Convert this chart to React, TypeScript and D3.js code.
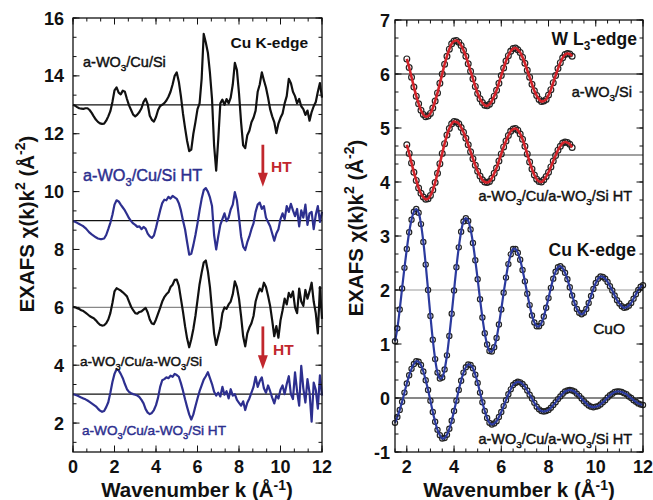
import React from 'react';
import * as d3 from 'd3';

const FONT = '"Liberation Sans", Arial, Helvetica, sans-serif';
const BLUE = '#2d2f8f';
const RED = '#d2232a';

// ---- left panel: Cu K-edge, k = 0 ... 12 (step 0.1)
const kLeft = d3.range(0, 121).map((i) => i / 10);
const cuSi = [
  13.0, 12.97, 12.92, 12.88, 12.87, 12.86, 12.88, 12.88, 12.82, 12.72,
  12.6, 12.49, 12.41, 12.36, 12.34, 12.35, 12.45, 12.6, 12.78, 13.1,
  13.5, 13.6, 13.42, 13.36, 13.49, 13.45, 13.2, 12.98, 12.82, 12.66,
  12.6, 12.66, 12.75, 12.88, 13.1, 13.21, 13.02, 12.62, 12.48, 12.42,
  12.58, 12.82, 12.96, 13.0, 13.06, 13.15, 13.28, 13.45, 13.7, 14.0,
  14.12, 13.8, 13.3, 12.7, 12.2, 11.75, 11.4, 11.45, 12.0, 12.4,
  12.85, 13.05, 13.9, 15.45, 15.15, 14.8, 14.1, 13.2, 11.6, 10.72,
  11.8, 13.05, 13.18, 13.0, 13.2, 13.05, 13.25, 13.7, 14.45, 14.2,
  13.4, 12.4, 11.6, 11.5, 11.95, 12.1, 12.4, 12.55, 12.8, 13.45,
  13.7, 14.12, 13.85, 13.6, 13.25, 12.85, 12.6, 12.4, 12.02, 12.35,
  12.55, 12.7, 13.05, 13.3, 13.9, 13.75, 13.45, 13.3, 13.05, 13.2,
  12.95, 12.85, 12.65, 12.8, 12.45, 12.75, 12.95, 13.1, 13.45, 13.75,
  13.25,
];
const cuSiHT = [
  8.98, 8.96, 8.92, 8.88, 8.84, 8.8, 8.74, 8.66, 8.58, 8.52,
  8.47, 8.42, 8.38, 8.36, 8.36, 8.38, 8.5, 8.7, 8.92, 9.2,
  9.55, 9.7, 9.66, 9.55, 9.45, 9.35, 9.22, 9.08, 8.98, 8.9,
  8.85, 8.78, 8.8, 8.7, 8.78, 8.72, 8.55, 8.45, 8.4, 8.48,
  8.75, 9.05, 9.35, 9.6, 9.72, 9.7, 9.82, 9.76, 9.85, 9.8,
  9.75, 9.6, 9.35, 9.0, 8.7, 8.25, 7.82, 7.85, 8.15, 8.5,
  8.9, 9.35, 9.75, 10.05, 10.12, 10.0, 9.8, 9.5, 8.5, 8.0,
  8.45, 8.85, 9.05, 9.25, 8.98, 9.1, 9.38, 9.55, 9.98, 9.7,
  9.1, 8.45, 8.1, 7.98, 8.25, 8.45, 8.7, 8.9, 9.3, 9.55,
  9.62, 9.4, 9.5, 9.1, 8.95, 8.8, 8.55, 8.3, 8.55, 8.7,
  9.05, 9.25, 9.05, 9.5, 9.3, 9.58, 9.35, 9.15, 9.4, 8.8,
  9.35, 9.1, 9.55, 8.85, 9.25, 9.3, 8.7, 9.2, 9.5, 8.95,
  9.3,
];
const cuWSi = [
  6.02, 6.0, 5.97, 5.94, 5.9, 5.87, 5.82, 5.76, 5.7, 5.66,
  5.62, 5.55, 5.47, 5.4, 5.37, 5.38, 5.45, 5.58, 5.8, 6.15,
  6.55, 6.66, 6.62, 6.58, 6.52, 6.45, 6.38, 6.2, 6.02, 5.9,
  5.8, 5.78, 5.84, 5.86, 5.92, 5.98, 5.82, 5.58, 5.44, 5.42,
  5.58, 5.78, 5.98, 6.2, 6.35, 6.45, 6.52, 6.7, 6.78, 6.95,
  6.96, 6.75, 6.3, 5.85, 5.35, 4.92, 4.62, 4.9, 5.25, 5.7,
  6.25, 6.8, 7.2, 7.55, 7.62, 7.25, 6.7, 5.9, 5.1, 4.7,
  5.0, 5.3, 5.8, 6.0, 5.95, 6.1, 6.2, 6.45, 6.9, 6.7,
  6.3, 5.7, 5.0, 4.65, 5.1, 5.3, 5.45, 5.7, 6.2, 6.45,
  6.65, 6.55, 6.85, 6.7, 6.4, 6.05, 5.55, 5.0, 5.35, 4.95,
  5.55, 5.9, 6.3, 6.1, 6.5, 6.35, 6.55, 6.0, 5.8, 6.65,
  6.2, 6.05, 6.6, 6.3, 6.55, 6.85, 6.2, 5.8, 5.1, 6.7,
  5.6,
];
const cuWSiHT = [
  3.0, 2.98, 2.95, 2.92, 2.88, 2.85, 2.82, 2.78, 2.73, 2.68,
  2.63, 2.58, 2.5, 2.43, 2.39, 2.42, 2.55, 2.72, 3.05, 3.42,
  3.7, 3.86, 3.82, 3.7, 3.55, 3.35, 3.17, 3.08, 3.03, 3.0,
  2.98, 2.95, 2.9, 2.8, 2.68, 2.48, 2.36, 2.31, 2.35, 2.45,
  2.62, 2.88, 3.25, 3.48, 3.52, 3.58, 3.55, 3.64, 3.6, 3.7,
  3.66, 3.6, 3.38, 3.12, 2.82, 2.55, 2.3, 2.12, 2.3, 2.58,
  2.85, 3.1, 3.3, 3.5, 3.62, 3.76, 3.55, 3.35, 3.08, 2.95,
  3.05, 2.92, 3.25, 2.98, 3.1, 2.85, 3.17, 2.95, 3.0, 2.8,
  2.7, 2.6, 2.75, 2.45, 2.7, 2.85, 3.05, 3.25, 3.6, 3.25,
  3.45, 3.58, 3.2, 3.05, 3.3, 3.1, 2.88, 2.68, 2.95, 2.85,
  3.15, 3.3, 3.0, 3.35, 3.62, 3.0, 2.83, 3.75, 3.1, 2.6,
  3.98, 3.2, 2.71, 3.52, 3.05, 2.05, 3.4, 3.15, 2.5, 3.65,
  2.95,
];
const leftSeries = [
  { values: cuSi, color: '#111', base: 13, baseColor: '#111' },
  { values: cuSiHT, color: BLUE, base: 9, baseColor: '#111' },
  { values: cuWSi, color: '#111', base: 6, baseColor: '#888' },
  { values: cuWSiHT, color: BLUE, base: 3, baseColor: '#111' },
];

// ---- right panel: W L3-edge (k = 2 ... 9) and Cu K-edge (k = 1.5 ... 12)
const kW = d3.range(20, 91).map((i) => i / 10);
const wSi = [
  6.28, 6.12, 5.94, 5.76, 5.59, 5.45, 5.33, 5.25, 5.21, 5.22,
  5.27, 5.37, 5.5, 5.65, 5.83, 6.0, 6.18, 6.33, 6.46, 6.56,
  6.61, 6.62, 6.59, 6.53, 6.44, 6.33, 6.19, 6.05, 5.91, 5.77,
  5.64, 5.54, 5.47, 5.42, 5.41, 5.44, 5.5, 5.59, 5.7, 5.83,
  5.97, 6.11, 6.24, 6.34, 6.42, 6.47, 6.48, 6.45, 6.4, 6.31,
  6.2, 6.07, 5.94, 5.81, 5.69, 5.6, 5.53, 5.49, 5.5, 5.53,
  5.61, 5.71, 5.84, 5.97, 6.1, 6.21, 6.3, 6.36, 6.38, 6.37,
  6.33,
];
const wCuHT = [
  4.69, 4.53, 4.35, 4.18, 4.03, 3.89, 3.79, 3.72, 3.68, 3.69,
  3.75, 3.85, 3.99, 4.16, 4.34, 4.53, 4.71, 4.87, 4.99, 5.08,
  5.12, 5.11, 5.08, 5.01, 4.92, 4.81, 4.69, 4.56, 4.43, 4.31,
  4.2, 4.11, 4.04, 4.0, 3.99, 4.01, 4.07, 4.16, 4.26, 4.39,
  4.52, 4.65, 4.76, 4.86, 4.94, 4.98, 4.99, 4.96, 4.89, 4.79,
  4.66, 4.52, 4.37, 4.24, 4.13, 4.05, 4.01, 4.0, 4.04, 4.1,
  4.18, 4.28, 4.39, 4.49, 4.59, 4.66, 4.72, 4.74, 4.73, 4.7,
  4.64,
];
const kCu = d3.range(15, 121).map((i) => i / 10);
const cuO = [
  1.05, 1.29, 1.64, 2.03, 2.41,
  2.76, 3.07, 3.3, 3.45, 3.5, 3.43, 3.22, 2.89, 2.47, 2.0,
  1.52, 1.08, 0.72, 0.47, 0.36, 0.38, 0.53, 0.79, 1.15, 1.56,
  1.99, 2.42, 2.79, 3.08, 3.27, 3.33, 3.28, 3.12, 2.87, 2.55,
  2.2, 1.83, 1.49, 1.2, 0.99, 0.87, 0.86, 0.94, 1.11, 1.36,
  1.64, 1.95, 2.23, 2.48, 2.66, 2.76, 2.76, 2.69, 2.56, 2.37,
  2.16, 1.93, 1.72, 1.53, 1.4, 1.33, 1.33, 1.39, 1.51, 1.67,
  1.85, 2.04, 2.21, 2.34, 2.42, 2.44, 2.4, 2.32, 2.2, 2.05,
  1.9, 1.76, 1.65, 1.58, 1.55, 1.58, 1.65, 1.76, 1.89, 2.02,
  2.13, 2.21, 2.25, 2.24, 2.21, 2.15, 2.07, 1.99, 1.9, 1.81,
  1.75, 1.7, 1.67, 1.68, 1.71, 1.76, 1.84, 1.92, 2.0, 2.06,
  2.09,
];
const cuHT = [
  -0.46, -0.35, -0.22, -0.07, 0.1,
  0.27, 0.42, 0.54, 0.63, 0.68, 0.67, 0.61, 0.49, 0.33, 0.15,
  -0.05, -0.26, -0.44, -0.59, -0.69, -0.75, -0.74, -0.68, -0.57, -0.42,
  -0.24, -0.05, 0.15, 0.32, 0.47, 0.57, 0.62, 0.61, 0.55, 0.43,
  0.28, 0.1, -0.08, -0.24, -0.37, -0.46, -0.49, -0.47, -0.43, -0.35,
  -0.26, -0.15, -0.04, 0.07, 0.16, 0.24, 0.28, 0.3, 0.29, 0.26,
  0.21, 0.14, 0.06, -0.01, -0.09, -0.16, -0.21, -0.24, -0.25, -0.24,
  -0.22, -0.18, -0.13, -0.08, -0.02, 0.03, 0.08, 0.12, 0.14, 0.15,
  0.14, 0.12, 0.08, 0.04, -0.01, -0.06, -0.1, -0.14, -0.16, -0.17,
  -0.16, -0.15, -0.12, -0.08, -0.04, 0.01, 0.05, 0.08, 0.11, 0.12,
  0.12, 0.11, 0.09, 0.07, 0.03, 0.0, -0.04, -0.07, -0.1, -0.12,
  -0.13,
];
const rightSeries = [
  { k: kW, values: wSi, fit: RED, base: 6, baseColor: '#111', fitW: 2.6, r: 2.9 },
  { k: kW, values: wCuHT, fit: RED, base: 4.5, baseColor: '#444', fitW: 2.6, r: 2.9 },
  { k: kCu, values: cuO, fit: '#2b3a9e', base: 2, baseColor: '#999', fitW: 2.2, r: 2.6 },
  { k: kCu, values: cuHT, fit: '#2b3a9e', base: 0, baseColor: '#111', fitW: 2.2, r: 2.6 },
];

const leftXTicks = [0, 2, 4, 6, 8, 10, 12];
const leftYTicks = [2, 4, 6, 8, 10, 12, 14, 16];
const rightXTicks = [2, 4, 6, 8, 10, 12];
const rightYTicks = [-1, 0, 1, 2, 3, 4, 5, 6, 7];

// rich text: _{..} subscript, ^{..} superscript
function rich(s: string, size: number, sup = 0.42) {
  const re = /([_^])\{([^}]*)\}/g;
  const out: any[] = [];
  let last = 0;
  let shift = 0;
  let key = 0;
  let m: RegExpExecArray | null;
  while ((m = re.exec(s))) {
    if (m.index > last) {
      out.push(<tspan key={key++} dy={-shift}>{s.slice(last, m.index)}</tspan>);
      shift = 0;
    }
    const d = m[1] === '_' ? size * 0.28 : -size * sup;
    out.push(<tspan key={key++} dy={d - shift} fontSize={size * 0.68}>{m[2]}</tspan>);
    shift = d;
    last = re.lastIndex;
  }
  if (last < s.length) out.push(<tspan key={key++} dy={-shift}>{s.slice(last)}</tspan>);
  return out;
}

const Label = ({ x, y, text, size, color = '#111', bold = false, anchor = 'start' }: any) => (
  <text
    x={x}
    y={y}
    fontSize={size}
    fill={color}
    stroke={bold ? 'none' : color}
    strokeWidth={bold ? 0 : 0.45}
    fontWeight={bold ? 'bold' : 'normal'}
    textAnchor={anchor}
    fontFamily={FONT}
  >
    {rich(text, size)}
  </text>
);

const Frame = ({ x, y, xMajor, xMinor, yMajor, yMinor, yLabelX }: any) => {
  const [x0, x1] = x.range();
  const [y1, y0] = y.range();
  const tick = (v: number, len: number, key: string, vertical: boolean) =>
    vertical ? (
      <g key={key}>
        <line x1={x(v)} x2={x(v)} y1={y1} y2={y1 - len} />
        <line x1={x(v)} x2={x(v)} y1={y0} y2={y0 + len} />
      </g>
    ) : (
      <g key={key}>
        <line x1={x0} x2={x0 + len} y1={y(v)} y2={y(v)} />
        <line x1={x1} x2={x1 - len} y1={y(v)} y2={y(v)} />
      </g>
    );
  return (
    <g>
      <g stroke="#111" strokeWidth={1}>
        {xMinor.map((v: number, i: number) => tick(v, 3.5, 'xm' + i, true))}
        {xMajor.map((v: number, i: number) => tick(v, 6.5, 'xM' + i, true))}
        {yMinor.map((v: number, i: number) => tick(v, 3.5, 'ym' + i, false))}
        {yMajor.map((v: number, i: number) => tick(v, 6.5, 'yM' + i, false))}
      </g>
      <rect x={x0} y={y0} width={x1 - x0} height={y1 - y0} fill="none" stroke="#111" strokeWidth={1.3} />
      <g fontFamily={FONT} fontWeight="bold" fontSize={18} fill="#111">
        {xMajor.map((v: number) => (
          <text key={'xl' + v} x={x(v)} y={473} textAnchor="middle">{v}</text>
        ))}
        {yMajor.map((v: number) => (
          <text key={'yl' + v} x={yLabelX} y={y(v) + 6.5} textAnchor="end">{v}</text>
        ))}
      </g>
    </g>
  );
};

const Arrow = ({ x, yTop, yTip }: any) => (
  <g>
    <line x1={x} x2={x} y1={yTop} y2={yTip - 12} stroke="#c1272d" strokeWidth={2.8} />
    <polygon points={`${x - 5},${yTip - 14} ${x + 5},${yTip - 14} ${x},${yTip}`} fill="#c1272d" />
  </g>
);

export default function App() {
  const xL = d3.scaleLinear().domain([0, 12]).range([73, 322]);
  const yL = d3.scaleLinear().domain([1, 16]).range([452, 18]);
  const xR = d3.scaleLinear().domain([1.5, 12]).range([395, 643]);
  const yR = d3.scaleLinear().domain([-1, 7]).range([452, 20]);

  const lineL = (vals: number[]) =>
    d3.line<number>().x((_, i) => xL(kLeft[i])).y((v) => yL(v))(vals) || '';
  const lineR = (k: number[], vals: number[]) =>
    d3.line<number>().x((_, i) => xR(k[i])).y((v) => yR(v)).curve(d3.curveCatmullRom)(vals) || '';

  return (
    <svg width={653} height={500} style={{ position: 'absolute', left: 0, top: 0, background: '#fff' }}>
      {/* left panel */}
      {leftSeries.map((s) => (
        <line key={'b' + s.base} x1={xL(0)} x2={xL(12)} y1={yL(s.base)} y2={yL(s.base)} stroke={s.baseColor} strokeWidth={1.2} />
      ))}
      {leftSeries.map((s, i) => (
        <path key={'l' + i} d={lineL(s.values)} fill="none" stroke={s.color} strokeWidth={2.2} strokeLinejoin="round" />
      ))}
      <Frame x={xL} y={yL} xMajor={leftXTicks} xMinor={d3.range(0, 12.01, 2 / 3)} yMajor={leftYTicks} yMinor={d3.range(4 / 3, 16.01, 2 / 3)} yLabelX={64} />
      <Label x={308} y={48} text="Cu K-edge" size={15.5} bold anchor="end" />
      <Label x={83} y={67} text="a-WO_{3}/Cu/Si" size={14.5} />
      <Label x={83} y={181} text="a-WO_{3}/Cu/Si HT" size={16.3} color={BLUE} />
      <Label x={80} y={366} text="a-WO_{3}/Cu/a-WO_{3}/Si" size={13.6} />
      <Label x={82} y={435} text="a-WO_{3}/Cu/a-WO_{3}/Si HT" size={13.6} color={BLUE} />
      <Arrow x={xL(9.15)} yTop={yL(11.62)} yTip={yL(10.17)} />
      <Label x={271} y={172} text="HT" size={15.5} bold color="#c1272d" />
      <Arrow x={xL(9.15)} yTop={yL(5.34)} yTip={yL(3.86)} />
      <Label x={273} y={355} text="HT" size={15.5} bold color="#c1272d" />

      {/* right panel */}
      {rightSeries.map((s) => (
        <line key={'rb' + s.base} x1={xR(1.5)} x2={xR(12)} y1={yR(s.base)} y2={yR(s.base)} stroke={s.baseColor} strokeWidth={1.2} />
      ))}
      {rightSeries.map((s, i) => (
        <g key={'c' + i} fill="none" stroke="#222" strokeWidth={1.2}>
          {s.values.map((v, j) => (
            <circle key={j} cx={xR(s.k[j])} cy={yR(v)} r={s.r} />
          ))}
        </g>
      ))}
      {rightSeries.map((s, i) => (
        <path key={'f' + i} d={lineR(s.k, s.values)} fill="none" stroke={s.fit} strokeWidth={s.fitW} />
      ))}
      <Frame x={xR} y={yR} xMajor={rightXTicks} xMinor={d3.range(1.5, 12.01, 0.5)} yMajor={rightYTicks} yMinor={d3.range(-1, 7.01, 1 / 3)} yLabelX={390} />
      <Label x={637} y={45} text="W L_{3}-edge" size={17.5} bold anchor="end" />
      <Label x={632} y={97} text="a-WO_{3}/Si" size={14.5} anchor="end" />
      <Label x={632} y={201} text="a-WO_{3}/Cu/a-WO_{3}/Si HT" size={14.5} anchor="end" />
      <Label x={636} y={256} text="Cu K-edge" size={17.5} bold anchor="end" />
      <Label x={625} y={334} text="CuO" size={15.5} anchor="end" />
      <Label x={632} y={444} text="a-WO_{3}/Cu/a-WO_{3}/Si HT" size={14.5} anchor="end" />

      {/* axis titles */}
      <g fontFamily={FONT} fontWeight="bold" fontSize={20.5} fill="#111" textAnchor="middle">
        <text x={197} y={497}>{rich('Wavenumber k (Å^{-1})', 20.5, 0.32)}</text>
        <text x={519} y={497}>{rich('Wavenumber k (Å^{-1})', 20.5, 0.32)}</text>
        <text transform="translate(33.5,224) rotate(-90)">{rich('EXAFS χ(k)k^{2} (Å^{-2})', 20.5)}</text>
        <text transform="translate(363,228) rotate(-90)">{rich('EXAFS χ(k)k^{2} (Å^{-2})', 20.5)}</text>
      </g>
    </svg>
  );
}
